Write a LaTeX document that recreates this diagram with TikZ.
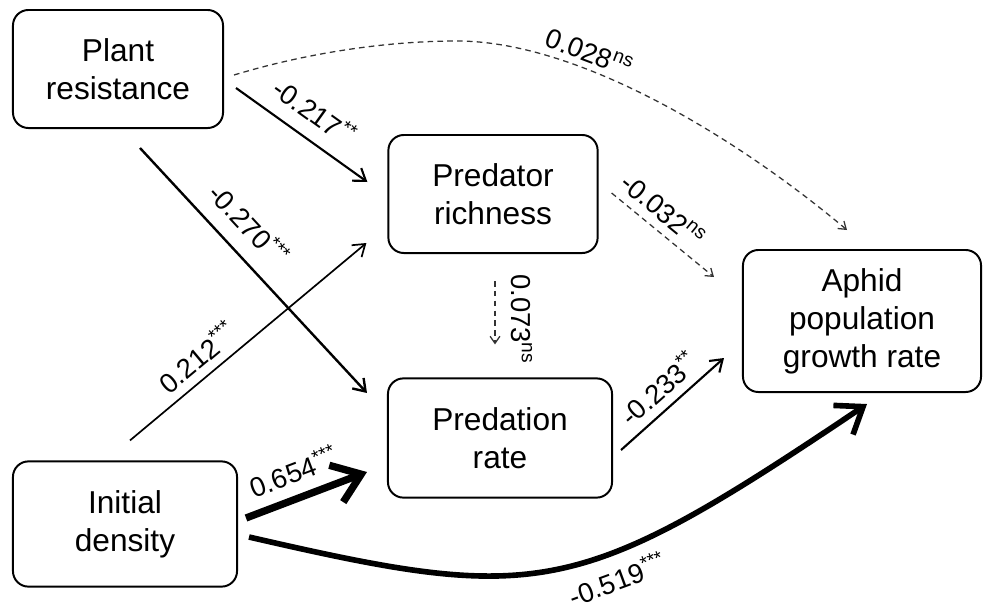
\documentclass[tikz,border=0pt]{standalone}
\usepackage{fontspec}
\setmainfont{Liberation Sans}
\usetikzlibrary{arrows.meta,calc}

\begin{document}
\begin{tikzpicture}[x=0.025cm, y=-0.025cm,
  box/.style={draw, line width=1.4pt, rounded corners=11pt, align=center,
    font=\fontsize{22.5}{27}\selectfont},
  eff/.style={->, line width=1.5pt, >={Straight Barb[length=8pt,width=11pt]}},
  effns/.style={->, line width=0.9pt, black!80, dash pattern=on 4pt off 3pt,
    >={Straight Barb[length=5pt,width=7pt]}},
  effbig/.style={->, line width=5.2pt, >={Straight Barb[length=19pt,width=28pt]}},
  lbl/.style={font=\fontsize{19.5}{23}\selectfont, text=black, inner sep=2pt}]

  \useasboundingbox (0,0) rectangle (984,612);

  % variables
  \node[box, minimum width=5.25cm, minimum height=2.95cm] (plant) at (118,69) {Plant\\resistance};
  \node[box, minimum width=5.23cm, minimum height=2.95cm] (richness) at (493,194) {Predator\\richness};
  \node[box, minimum width=5.6cm, minimum height=2.98cm] (predation) at (500,438) {Predation\\rate};
  \node[box, minimum width=5.6cm, minimum height=3.13cm] (initial) at (125,524) {Initial\\density};
  \node[box, minimum width=5.95cm, minimum height=3.55cm] (aphid) at (862,321) {Aphid\\population\\growth rate};

  % significant paths
  \draw[eff] ($(plant.east)+(12,19)$) -- node[lbl, sloped, above=8pt, pos=.48] (l217) {-0.217\textsuperscript{**}} ($(richness.west)+(-20,-12)$);
  \draw[eff, line width=1.7pt] ($(plant.south)+(22,19)$) -- node[lbl, sloped, above=9pt, pos=.39] (l270) {-0.270\textsuperscript{***}} ($(predation.west)+(-20,-45)$);
  \draw[eff, line width=1.2pt] ($(initial.north)+(5,-20)$) -- node[lbl, sloped, above=4pt, pos=.34] (l212) {0.212\textsuperscript{***}} ($(richness.west)+(-21,49)$);
  \draw[eff] ($(predation.east)+(8,12)$) -- node[lbl, sloped, above=4pt, pos=.5] (l233) {-0.233\textsuperscript{**}} ($(aphid.west)+(-18,37)$);
  \draw[effbig] ($(initial.east)+(8,-6)$) -- node[lbl, sloped, above=6pt, pos=.47] (l654) {0.654\textsuperscript{***}} ($(predation.west)+(-20,34)$);
  \draw[effbig, line width=4pt, >={Straight Barb[length=17pt,width=25pt]}] ($(initial.east)+(11,13)$)
    .. controls (540,604) and (577,599) .. ($(aphid.south)+(5,11)$)
    node[lbl, sloped, below=6pt, pos=.6] (l519) {-0.519\textsuperscript{***}};

  % non-significant paths
  \draw[effns] ($(richness.east)+(13,-1)$) -- node[lbl, sloped, above=4pt, pos=.38] (l032) {-0.032\textsuperscript{ns}} ($(aphid.north west)+(-28,28)$);
  \draw[effns] ($(richness.south)+(2,27)$) -- node[lbl, rotate=-90, above=9pt, pos=.6] (l073) {0.073\textsuperscript{ns}} ($(predation.north)+(-5,-33)$);
  \draw[effns] ($(plant.east)+(10,6)$) .. controls (310,52) and (390,41) .. (457,41)
    .. controls (580,41) and (740,140) .. ($(aphid.north)+(-15,-19)$)
    node[lbl, sloped, above=2pt, pos=.32] (l028) {0.028\textsuperscript{ns}};
\end{tikzpicture}
\end{document}
